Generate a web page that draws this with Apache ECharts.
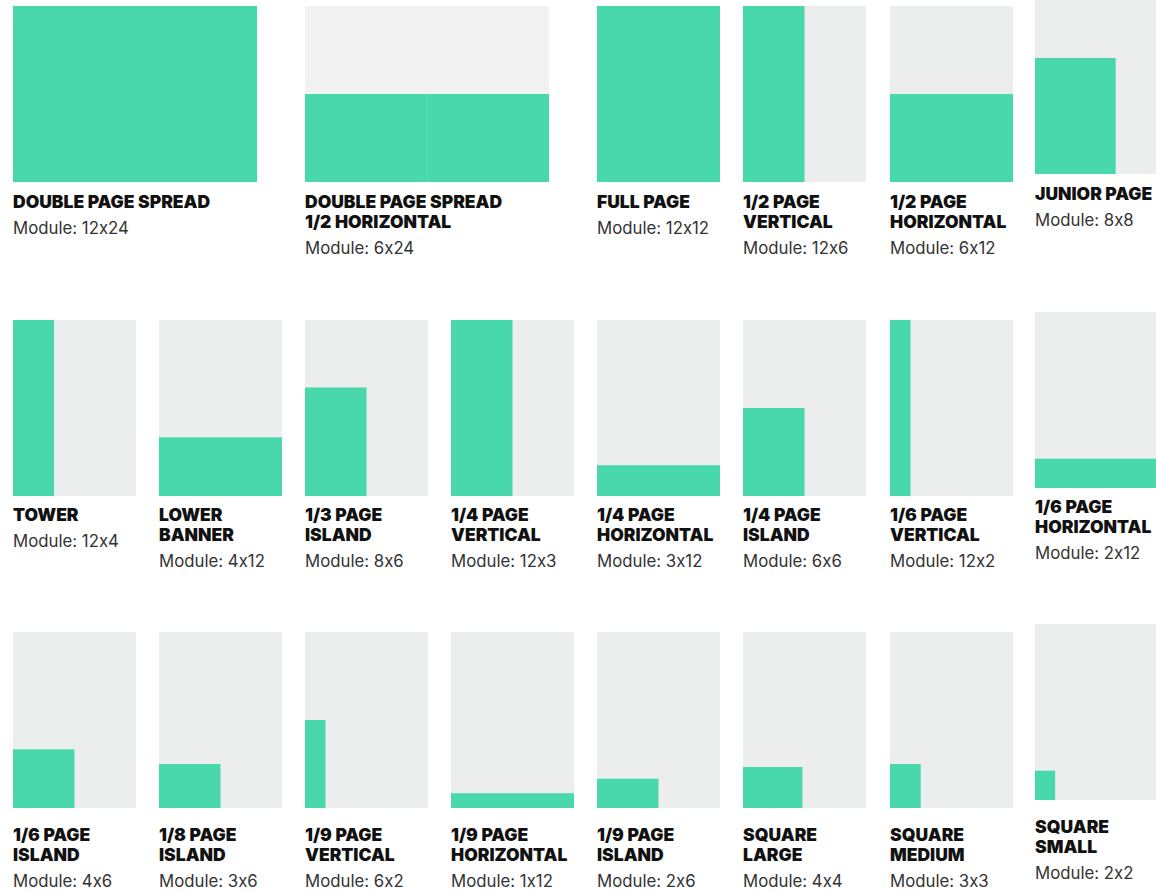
<!DOCTYPE html>
<html>
<head>
<meta charset="utf-8">
<title>Ad formats</title>
<script src="https://cdn.jsdelivr.net/npm/echarts@6/dist/echarts.min.js"></script>
<style>
html,body{margin:0;padding:0;background:#fff;}
#chart{width:1156px;height:892px;}
#chart text{font-feature-settings:"calt" 0;}
</style>
</head>
<body>
<div id="chart"></div>
<script>
// ---------- DATA ----------
const formatNames = [
  'DOUBLE PAGE SPREAD', 'DOUBLE PAGE SPREAD\n1/2 HORIZONTAL', 'FULL PAGE', '1/2 PAGE\nVERTICAL', '1/2 PAGE\nHORIZONTAL', 'JUNIOR PAGE',
  'TOWER', 'LOWER\nBANNER', '1/3 PAGE\nISLAND', '1/4 PAGE\nVERTICAL', '1/4 PAGE\nHORIZONTAL', '1/4 PAGE\nISLAND', '1/6 PAGE\nVERTICAL', '1/6 PAGE\nHORIZONTAL',
  '1/6 PAGE\nISLAND', '1/8 PAGE\nISLAND', '1/9 PAGE\nVERTICAL', '1/9 PAGE\nHORIZONTAL', '1/9 PAGE\nISLAND', 'SQUARE\nLARGE', 'SQUARE\nMEDIUM', 'SQUARE\nSMALL'
];
const moduleLabels = [
  '12x24', '6x24', '12x12', '12x6', '6x12', '8x8',
  '12x4', '4x12', '8x6', '12x3', '3x12', '6x6', '12x2', '2x12',
  '4x6', '3x6', '6x2', '1x12', '2x6', '4x4', '3x3', '2x2'
];
// page width in modules (page height is always 12 modules)
const pageCols = [24, 24, 12, 12, 12, 12, 12, 12, 12, 12, 12, 12, 12, 12, 12, 12, 12, 12, 12, 12, 12, 12];
const pageRows = 12;
// size of the drawn ad block, in modules
const adRows = [12, 6, 12, 12, 6, 8, 12, 4, 7.4, 12, 2.1, 6, 12, 2, 4, 3, 6, 1, 2, 2.8, 3, 2];
const adCols = [24, 24, 12, 6, 12, 8, 4, 12, 6, 6, 12, 6, 2, 12, 6, 6, 2, 12, 6, 5.8, 3, 2];

// ---------- LAYOUT ----------
const slotCol = [0, 2, 4, 5, 6, 7, 0, 1, 2, 3, 4, 5, 6, 7, 0, 1, 2, 3, 4, 5, 6, 7];
const slotRow = [0, 0, 0, 0, 0, 0, 1, 1, 1, 1, 1, 1, 1, 1, 2, 2, 2, 2, 2, 2, 2, 2];
const rowTops = [6, 320, 632];
const titleGap = [19, 18, 26];
const colLefts = [13, 159, 305, 451, 597, 743, 890, 1035];
const pageW = 123, spreadW = 244, pageH = 176;
const GREEN = '#48D8AC', GRAY = '#ECEDED', GRAY_SPREAD = '#F2F2F2';

const grids = [], xAxes = [], yAxes = [], series = [], titles = [];
formatNames.forEach((name, i) => {
  const c = slotCol[i], r = slotRow[i];
  const shift = c === 7 ? -8 : 0;
  const left = colLefts[c];
  const top = rowTops[r] + shift;
  const w = pageCols[i] === 24 ? spreadW : pageW;
  grids.push({
    left: left, top: top, width: w, height: pageH,
    show: true, backgroundColor: pageCols[i] === 24 ? GRAY_SPREAD : GRAY, borderWidth: 0
  });
  xAxes.push({type: 'value', gridIndex: i, min: 0, max: pageCols[i], show: false});
  yAxes.push({type: 'value', gridIndex: i, min: 0, max: pageRows, show: false});
  series.push({
    type: 'custom', xAxisIndex: i, yAxisIndex: i, silent: true,
    data: [[adCols[i], adRows[i], pageCols[i]]],
    renderItem: function (params, api) {
      const p0 = api.coord([0, 0]);
      const p1 = api.coord([api.value(0), api.value(1)]);
      const children = [{
        type: 'rect',
        shape: {x: p0[0], y: p1[1], width: p1[0] - p0[0], height: p0[1] - p1[1]},
        style: {fill: GREEN}
      }];
      if (i === 1) {
        const pm = api.coord([api.value(2) / 2, 0]);
        children.push({
          type: 'line',
          shape: {x1: pm[0], y1: p1[1], x2: pm[0], y2: p0[1]},
          style: {stroke: 'rgba(255,255,255,0.12)', lineWidth: 1}
        });
      }
      return {type: 'group', children: children};
    }
  });
  titles.push({
    text: name,
    subtext: 'Module: ' + moduleLabels[i],
    left: left, top: top + pageH + titleGap[r] - 10,
    padding: 0, itemGap: 7,
    textStyle: {fontFamily: 'Inter', fontWeight: 900, fontSize: 17.5, lineHeight: 20, color: '#111'},
    subtextStyle: {fontFamily: 'Inter', fontWeight: 400, fontSize: 16.8, lineHeight: 20, color: '#333'}
  });
});

const chart = echarts.init(document.getElementById('chart'), null, {renderer: 'svg'});
chart.setOption({
  backgroundColor: '#fff',
  animation: false,
  title: titles,
  grid: grids,
  xAxis: xAxes,
  yAxis: yAxes,
  series: series
});
</script>
</body>
</html>
